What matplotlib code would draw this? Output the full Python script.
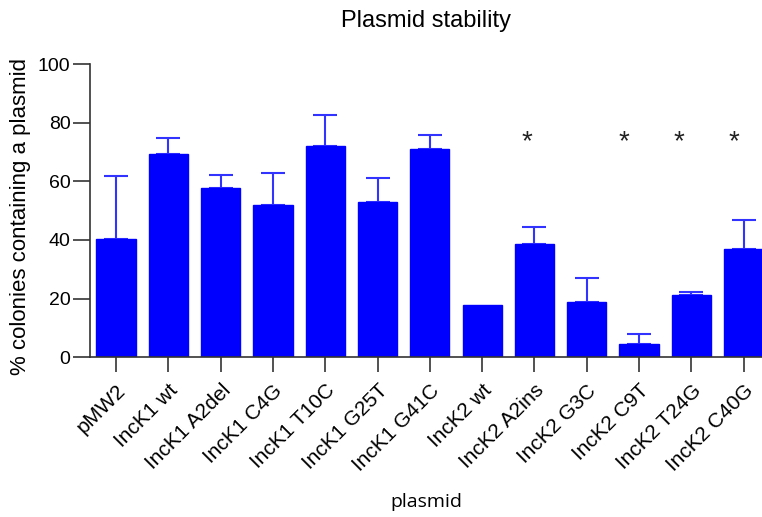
import matplotlib
matplotlib.use("Agg")
import matplotlib.pyplot as plt
import numpy as np

categories = ["pMW2", "IncK1 wt", "IncK1 A2del", "IncK1 C4G", "IncK1 T10C",
              "IncK1 G25T", "IncK1 G41C", "IncK2 wt", "IncK2 A2ins", "IncK2 G3C",
              "IncK2 C9T", "IncK2 T24G", "IncK2 C40G"]
values = [40.3, 69.4, 57.8, 52.0, 72.0, 52.9, 71.2, 17.9, 38.7, 18.8, 4.4, 21.2, 37.0]
err_top = [61.9, 74.7, 62.2, 62.9, 82.8, 61.3, 75.8, 17.9, 44.5, 27.0, 7.8, 22.3, 46.8]
star_cats = ["IncK2 A2ins", "IncK2 C9T", "IncK2 T24G", "IncK2 C40G"]
star_level = 73.5
yticks = [0, 20, 40, 60, 80, 100]

plt.rcParams['font.family'] = ['Liberation Sans', 'DejaVu Sans']
fig = plt.figure(figsize=(7.62, 5.17), dpi=100)
ax = fig.add_axes([0.118, 0.309, 0.882, 0.567])

x = np.arange(len(categories))
errs = np.array(err_top) - np.array(values)
ax.bar(x, values, width=0.75, color='#0000FF', edgecolor='#0000FF', zorder=2)
mask = errs > 0.01
ax.errorbar(x[mask], np.array(values)[mask], yerr=[np.zeros(mask.sum()), errs[mask]],
            fmt='none', ecolor='#3333FF', elinewidth=1.5, capsize=8.5, capthick=1.5, zorder=1)

star_offsets = [-0.15, -0.3, -0.23, -0.19]
for c, off in zip(star_cats, star_offsets):
    i = categories.index(c)
    ax.text(i + off, star_level, "*", ha='center', va='center', fontsize=20, color='#222222')

ax.set_xlim(-0.5, 12.35)
ax.set_ylim(0, 100)
ax.set_yticks(yticks)
ax.set_xticks(x)
ax.set_xticklabels(categories, rotation=45, ha='right', rotation_mode='anchor', fontsize=15)
ax.tick_params(axis='y', labelsize=14, length=12, width=1.2, color='#333333', pad=2)
ax.tick_params(axis='x', length=11, width=1.2, color='#333333', pad=6)
for s in ['top', 'right']:
    ax.spines[s].set_visible(False)
for s in ['left', 'bottom']:
    ax.spines[s].set_color('#333333')
    ax.spines[s].set_linewidth(1.2)

ax.set_ylabel("% colonies containing a plasmid", fontsize=16)
ax.yaxis.set_label_coords(-0.087, 0.48)
ax.set_xlabel("plasmid", fontsize=14, family=['Open Sans', 'DejaVu Sans'])
ax.xaxis.set_label_coords(0.5, -0.462)
ax.set_title("Plasmid stability", fontsize=17, pad=27)

fig.savefig("out.png", dpi=100)
